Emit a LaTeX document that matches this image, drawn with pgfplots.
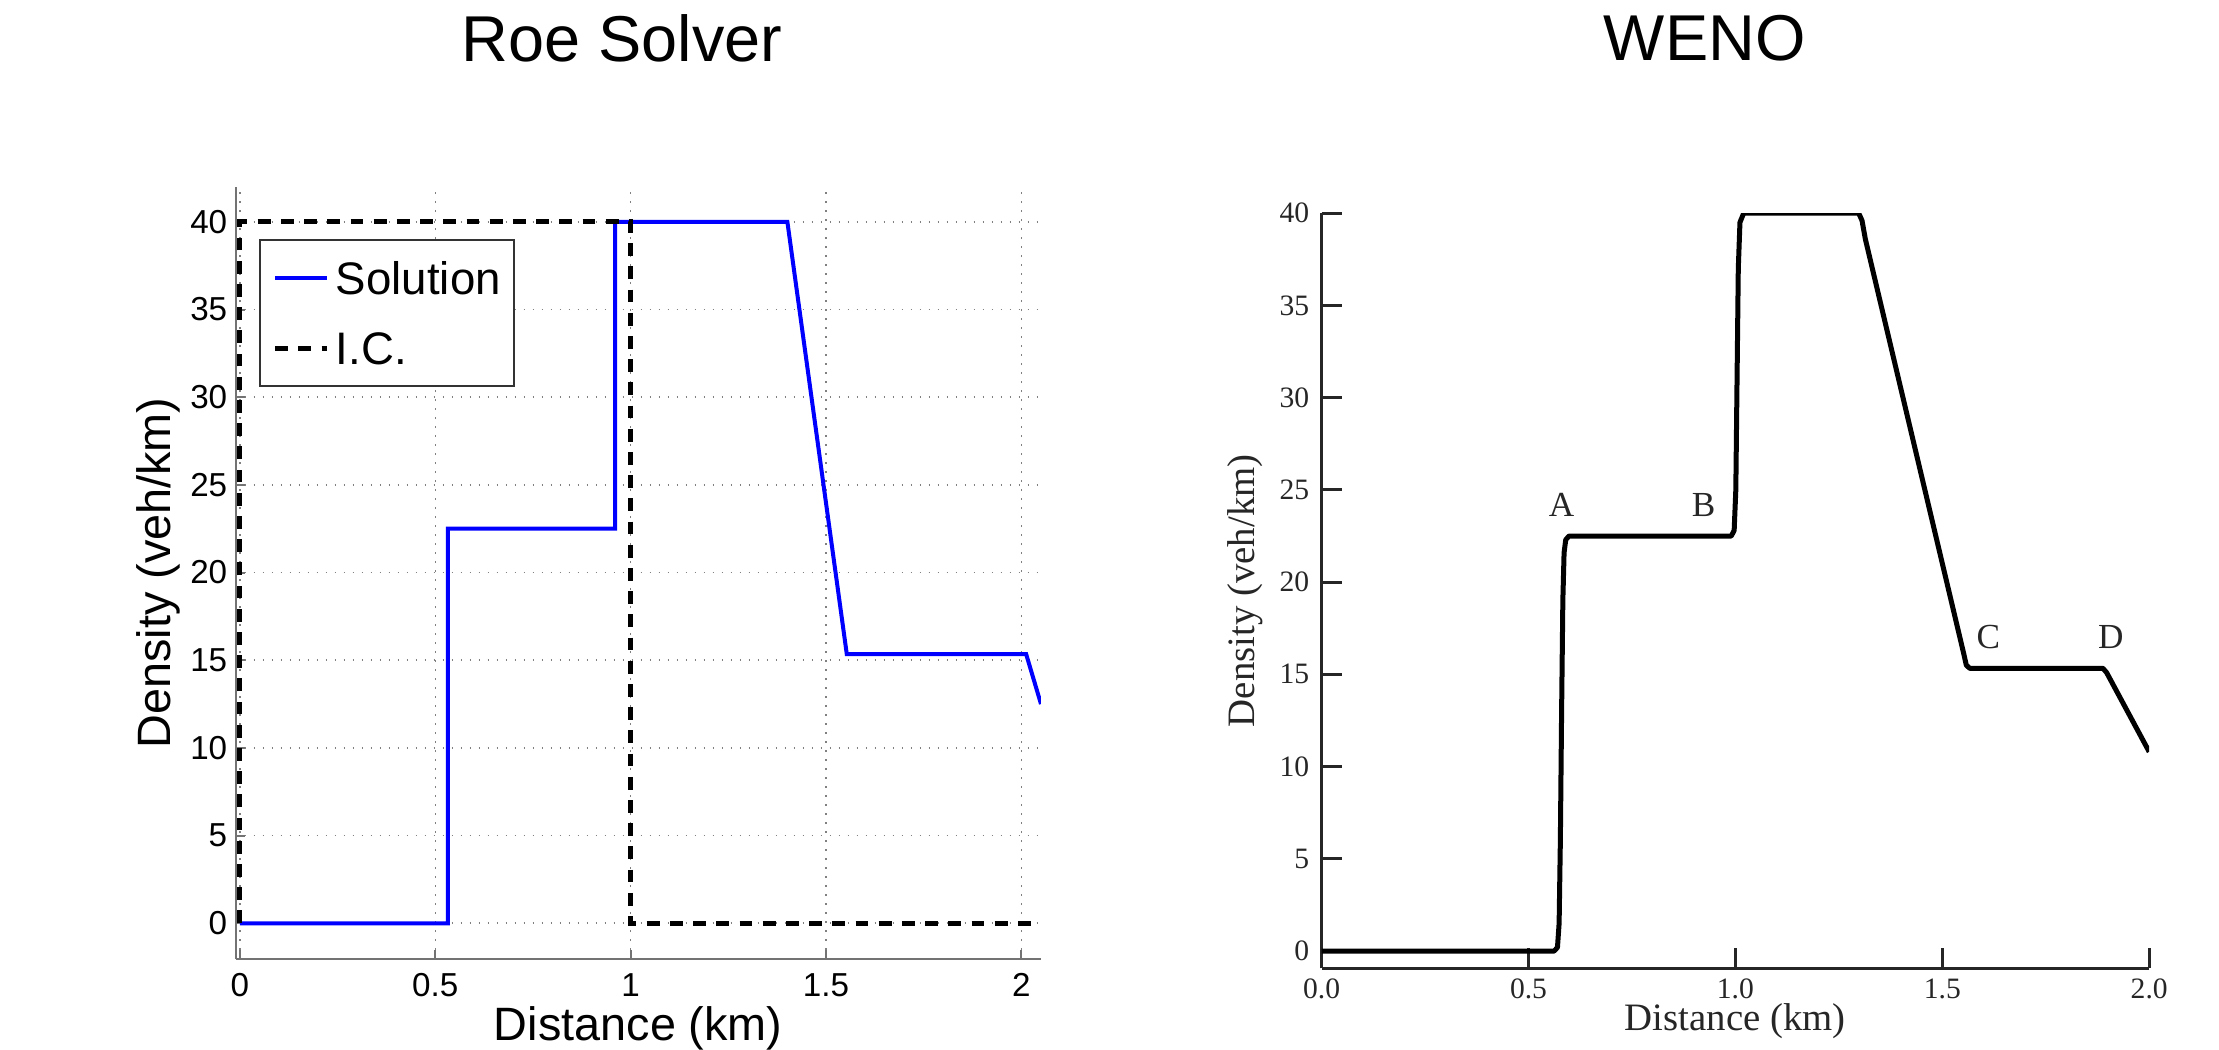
\documentclass[border=0pt]{standalone}
\usepackage{fontspec}
\setmainfont{Liberation Sans}
\newfontfamily\msans{Liberation Sans}
\newfontfamily\tserif{Liberation Serif}
\usepackage{pgfplots}
\pgfplotsset{compat=1.18}

\begin{document}
\begin{tikzpicture}
\useasboundingbox (0,0) rectangle (554.75pt,262.5pt);
% ---------------- Left: Roe Solver ----------------
\begin{axis}[
  at={(58.9pt,22.7pt)}, anchor=south west,
  scale only axis, width=201.35pt, height=193.1pt,
  xmin=-0.011, xmax=2.05, ymin=-2.05, ymax=42,
  axis x line*=bottom, axis y line*=left,
  axis line style={black!55, line width=0.5pt},
  xtick={0,0.5,1,1.5,2}, xticklabels={0,0.5,1,1.5,2},
  ytick={0,5,...,40},
  tick align=inside, major tick length=2.3pt,
  tick style={black!55, line width=0.5pt},
  grid=major,
  major grid style={black!50, line width=0.38pt, dash pattern=on 0.45pt off 1.8pt},
  /pgf/number format/assume math mode=true,
  ticklabel style={font=\msans\fontsize{8.3}{10}\selectfont, inner sep=0pt},
  xticklabel style={yshift=-3.4pt},
  yticklabel style={xshift=-1.9pt},
  xlabel={Distance (km)}, ylabel={Density (veh/km)},
  label style={font=\msans\fontsize{11.7}{14}\selectfont, inner sep=0pt},
  xlabel style={at={(axis description cs:0.5,-0.0606)}, anchor=north},
  ylabel style={at={(axis description cs:-0.096,0.5)}, anchor=center},
  title={Roe Solver},
  title style={at={(axis description cs:0.480,1.1316)}, anchor=base, inner sep=0pt, font=\msans\fontsize{16.2}{19}\selectfont},
  legend style={at={(0.029,0.932)}, anchor=north west,
    draw=black!80, line width=0.5pt, fill=white,
    inner xsep=3.2pt, inner ysep=0.75pt, row sep=0pt,
    font=\msans\fontsize{11.4}{13.7}\selectfont,
    nodes={inner xsep=0pt, inner ysep=3.35pt, text height=9.4pt, text depth=1.4pt},
    /tikz/every odd column/.style={column sep=1.6pt},
    /tikz/every even column/.style={column sep=0pt}},
  legend cell align=left,
  legend image code/.code={\draw[#1] (0pt,0pt) -- (13pt,0pt);},
]
\addplot[blue, line width=1pt] coordinates {
  (0,0) (0.532,0) (0.532,22.5) (0.960,22.5) (0.960,40) (1.401,40)
  (1.553,15.35) (2.012,15.35) (2.050,12.5)};
\addlegendentry{Solution}
\addplot[black, line width=1.2pt, dash pattern=on 3.2pt off 2.6pt] coordinates {
  (0,0) (0,40) (1,40) (1,0) (2.05,0)};
\addlegendentry{I.C.}
\end{axis}
% ---------------- Right: WENO ----------------
\begin{axis}[
  at={(330.4pt,20.4pt)}, anchor=south west,
  scale only axis, width=206.9pt, height=188.8pt,
  xmin=0, xmax=2, ymin=-0.94, ymax=40,
  axis x line*=bottom, axis y line*=left,
  axis line style={black!85, line width=0.8pt},
  xtick={0,0.5,1,1.5,2}, xticklabels={0.0,0.5,1.0,1.5,2.0},
  ytick={0,5,...,40},
  tick align=inside, major tick length=5pt,
  tick style={black!85, line width=0.8pt},
  /pgf/number format/assume math mode=true,
  ticklabel style={font=\tserif\fontsize{7.4}{9}\selectfont, inner sep=0pt, text=black!85},
  xticklabel style={yshift=-2.4pt},
  yticklabel style={xshift=-2.9pt},
  xlabel={Distance (km)}, ylabel={Density (veh/km)},
  label style={font=\tserif\fontsize{9.7}{12}\selectfont, inner sep=0pt, text=black!85},
  xlabel style={at={(axis description cs:0.5,-0.045)}, anchor=north},
  ylabel style={at={(axis description cs:-0.0918,0.5)}, anchor=center},
  title={WENO},
  title style={at={(axis description cs:0.463,1.17)}, anchor=base, inner sep=0pt, font=\msans\fontsize{16.2}{19}\selectfont},
]
\addplot[black, line width=1.25pt, line join=round] coordinates {
  (0,0) (0.562,0) (0.570,0.2) (0.574,1.5) (0.577,6) (0.580,13) (0.583,19)
  (0.586,21.6) (0.590,22.3) (0.598,22.5) (0.990,22.5) (0.997,22.8)
  (1.001,25) (1.004,31) (1.007,37) (1.011,39.5) (1.020,40) (1.298,40)
  (1.306,39.6) (1.314,38.6) (1.552,16.1) (1.558,15.5) (1.566,15.33)
  (1.888,15.33) (1.897,15.1) (2.0,10.8)};
\node[font=\tserif\fontsize{8.8}{10}\selectfont, text=black!85] at (axis cs:0.58,24.2) {A};
\node[font=\tserif\fontsize{8.8}{10}\selectfont, text=black!85] at (axis cs:0.923,24.2) {B};
\node[font=\tserif\fontsize{8.8}{10}\selectfont, text=black!85] at (axis cs:1.611,17.05) {C};
\node[font=\tserif\fontsize{8.8}{10}\selectfont, text=black!85] at (axis cs:1.907,17.05) {D};
\end{axis}
\end{tikzpicture}
\end{document}
